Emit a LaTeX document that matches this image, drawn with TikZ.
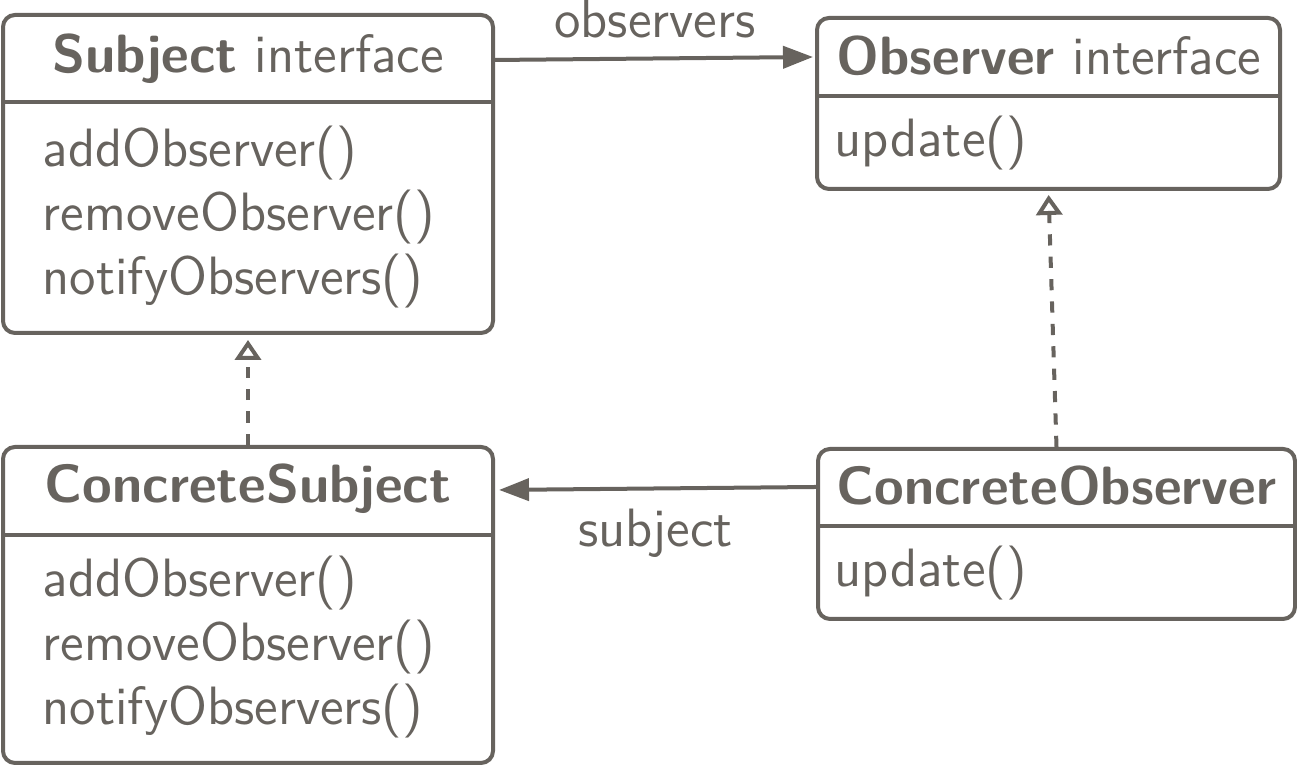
\documentclass[tikz,border=0pt]{standalone}
\usetikzlibrary{positioning,arrows.meta}
\definecolor{umlgrey}{RGB}{103,99,94}
\tikzstyle{classbox}=[draw=umlgrey,line width=1pt,rounded corners=3pt,inner sep=0pt]
\tikzstyle{classline}=[draw=umlgrey,line width=1pt]
\tikzstyle{classtitle}=[anchor=base,inner sep=0pt]
% base west = baseline of the last line
\tikzstyle{classbody}=[anchor=base west,align=left,inner sep=0pt]
\tikzstyle{assoc}=[draw=umlgrey,line width=1pt,-{Triangle[length=7.5pt,width=5.5pt]}]
\tikzstyle{realize}=[draw=umlgrey,line width=1pt,dash pattern=on 2.8pt off 2.8pt,-{Triangle[open,length=5pt,width=6.5pt]}]
\newcommand{\newClass}[4]{\node[classbox,minimum width=#3,minimum height=#4](#1) at (#2) {};}
\newcommand{\newSplit}[2]{\draw[classline] (#1.west |- 0,#2) -- (#1.east |- 0,#2);}

\begin{document}
\begin{tikzpicture}[x=1pt,y=1pt,
        every node/.style={text=umlgrey,font=\sffamily\fontsize{13.5}{16}\selectfont}
        ]
        \useasboundingbox (0,0) rectangle (324.25,192);
        % boxes
        \newClass{subject}{62,148.5}{122.5pt}{79.5pt}
        \newClass{observer}{262.125,166.125}{115.75pt}{42.75pt}
        \newClass{csubject}{62,40.75}{122.5pt}{79pt}
        \newClass{cobserver}{264.125,58.5}{119.25pt}{42.5pt}
        \newSplit{subject}{166.5}
        \newSplit{observer}{168}
        \newSplit{csubject}{58.25}
        \newSplit{cobserver}{60.5}
        % texts
        \node[classtitle] (subjectTitle) at (62,173.75) {\bfseries Subject\mdseries{} interface};
        \node[classbody] (subjectOps) at (10.5,118.25) {addObserver()\\removeObserver()\\notifyObservers()};
        \node[classtitle] (observerTitle) at (262.25,173.25) {\bfseries Observer\mdseries{} interface};
        \node[classbody] (observerOps) at (208.5,152.75) {update()};
        \node[classtitle] (csubjectTitle) at (62,66.25) {\bfseries ConcreteSubject};
        \node[classbody] (csubjectOps) at (10.5,10.75) {addObserver()\\removeObserver()\\notifyObservers()};
        \node[classtitle] (cobserverTitle) at (264.125,65.75) {\bfseries ConcreteObserver};
        \node[classbody] (cobserverOps) at (208.5,45.25) {update()};
        % links
        \draw[assoc,shorten >=0.5pt] ([yshift=28.5pt]subject.east) -- node[above=4.6pt,inner sep=0pt] (obsLabel) {observers} ([yshift=11.625pt]observer.west);
        \draw[assoc,shorten >=1pt] ([yshift=11.75pt]cobserver.west) -- node[below=4.6pt,inner sep=0pt] (subjLabel) {subject} ([yshift=28.75pt]csubject.east);
        \draw[realize,shorten >=1.25pt] (csubject.north) -- (subject.south);
        \draw[realize,shorten >=1pt] (cobserver.north) -- (observer.south);
\end{tikzpicture}
\end{document}
